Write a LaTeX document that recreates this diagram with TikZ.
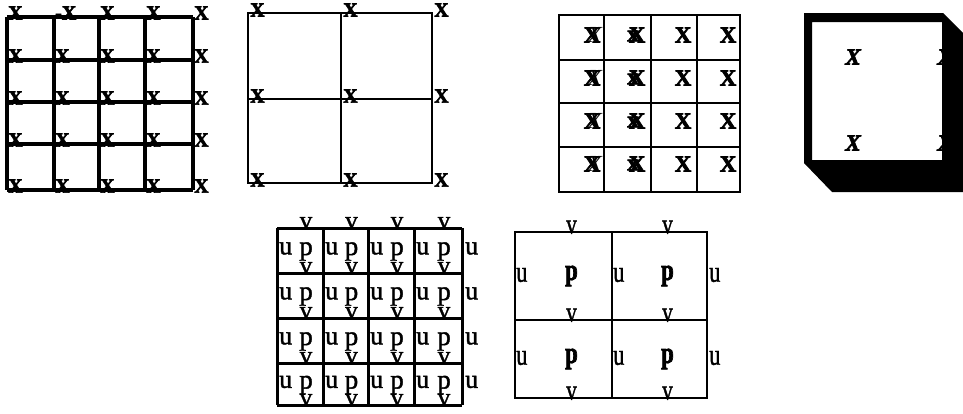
\documentclass[tikz,border=0pt]{standalone}
\usepackage{fontspec}
\setmainfont{Liberation Serif}[
  UprightFeatures={FakeBold=1.5},
  BoldFeatures={FakeBold=3},
  BoldItalicFeatures={FakeBold=3}]
\usetikzlibrary{positioning}

\begin{document}
\begin{tikzpicture}[x=1pt, y=-1pt,
  ln/.style={line width=2.6pt},
  xa/.style={inner sep=0pt, anchor=west, font=\fontsize{20}{20}\selectfont\bfseries},
  xc/.style={inner sep=0pt, font=\fontsize{23}{23}\selectfont\bfseries},
  xd/.style={inner sep=0pt, font=\fontsize{23}{23}\selectfont\bfseries\itshape},
  lu/.style={inner sep=0pt, anchor=west, font=\fontsize{26}{26}\selectfont},
  lp/.style={inner sep=0pt, font=\fontsize{27}{27}\selectfont},
  lv/.style={inner sep=0pt, anchor=south, font=\fontsize{25}{25}\selectfont},
  bu/.style={inner sep=0pt, anchor=west, font=\fontsize{30}{30}\selectfont},
  bp/.style={inner sep=0pt, font=\fontsize{30}{30}\selectfont\bfseries},
  bv/.style={inner sep=0pt, anchor=south, font=\fontsize{28}{28}\selectfont}]
  \useasboundingbox (0,0) rectangle (963,413);

  % fine grid, X on the vertices
  \foreach \x in {7,54,99,145,193} \draw[line width=4.2pt] (\x,17) -- (\x,190);
  \foreach \y in {17,60,102,144,190} \draw[line width=4.2pt] (7,\y) -- (193,\y);
  \foreach \x [count=\i] in {7,54,99,145,193}
    \foreach \y [count=\j] in {17,60,102,144,190}
      \node[xa] (a-\i-\j) at (\x+1,\y-4) {\ifnum\i\j=21 -\fi X};

  % coarse grid
  \draw[ln] (248,13) rectangle (432,183);
  \draw[ln] (341,13) -- (341,183) (248,99) -- (432,99);
  \foreach \x [count=\i] in {248,341,432}
    \foreach \y [count=\j] in {13,99,183}
      \node[xa] (b-\i-\j) at (\x+2,\y-3) {X};

  % cell centred X
  \draw[ln] (559,15) rectangle (740,192);
  \foreach \x in {604,651,697} \draw[ln] (\x,15) -- (\x,192);
  \foreach \y in {60,103,147} \draw[ln] (559,\y) -- (740,\y);
  \foreach \y [count=\j] in {35,78,121,164} {
    \node[xc] (c-1-\j) at (592,\y) {X};
    \node[xd, font=\fontsize{23}{23}\selectfont\itshape] (c-1-\j') at (595,\y) {X};
    \node[xc] (c-2-\j') at (633,\y+1) {x};
    \node[xc] (c-2-\j) at (637,\y) {X};
    \node[xc] (c-3-\j) at (683,\y) {X};
    \node[xc] (c-4-\j) at (728,\y) {X};
  }

  % boxed cell
  \node[xd] (d-1-1) at (853,57) {X};
  \node[xd] (d-1-2) at (853,143) {X};
  \node[xd] (d-2-1) at (945,57) {X};
  \node[xd] (d-2-2) at (945,143) {X};
  \fill[black, even odd rule] (804,13) -- (943,13) -- (975,45) -- (975,192)
    -- (832,192) -- (804,163) -- cycle (812,22) rectangle (942,160);

  % staggered grid, fine
  \foreach \x in {277,323,368,414,462} \draw[line width=3pt] (\x,228) -- (\x,405);
  \foreach \y in {228,273,318,363,405} \draw[line width=3pt] (277,\y) -- (462,\y);
  \foreach \xl/\xr [count=\i] in {277/323,323/368,368/414,414/462}
    \foreach \yt/\yb [count=\j] in {228/273,273/318,318/363,363/405} {
      \node[lu] (u-\i-\j) at (\xl+2,{(\yt+\yb)/2-2}) {u};
      \node[lp] (p-\i-\j) at ({(\xl+\xr)/2+6},{(\yt+\yb)/2+1}) {p};
      \node[lv] (v-\i-\j) at ({(\xl+\xr)/2+6},\yt+1) {v};
    }
  \foreach \xl/\xr [count=\i] in {277/323,323/368,368/414,414/462}
    \node[lv] (v-\i-5) at ({(\xl+\xr)/2+6},406) {v};
  \foreach \yt/\yb [count=\j] in {228/273,273/318,318/363,363/405}
    \node[lu] (u-5-\j) at (465,{(\yt+\yb)/2-2}) {u};

  % staggered grid, coarse
  \draw[ln] (515,232) rectangle (707,398);
  \draw[ln] (612,232) -- (612,398) (515,320) -- (707,320);
  \foreach \xl/\xr [count=\i] in {515/612,612/707}
    \foreach \yt/\yb [count=\j] in {232/320,320/398} {
      \node[bu] (U-\i-\j) at (\xl+1,{(\yt+\yb)/2-1}) {\scalebox{0.75}[1]{u}};
      \node[bp] (P-\i-\j) at ({(\xl+\xr)/2+8},{(\yt+\yb)/2}) {\scalebox{0.75}[1]{p}};
      \node[bv] (V-\i-\j) at ({(\xl+\xr)/2+8},\yt+2) {\scalebox{0.75}[1]{v}};
    }
  \foreach \xl/\xr [count=\i] in {515/612,612/707}
    \node[bv] (V-\i-3) at ({(\xl+\xr)/2+8},400) {\scalebox{0.75}[1]{v}};
  \foreach \yt/\yb [count=\j] in {232/320,320/398}
    \node[bu] (U-3-\j) at (709,{(\yt+\yb)/2-1}) {\scalebox{0.75}[1]{u}};
\end{tikzpicture}
\end{document}
